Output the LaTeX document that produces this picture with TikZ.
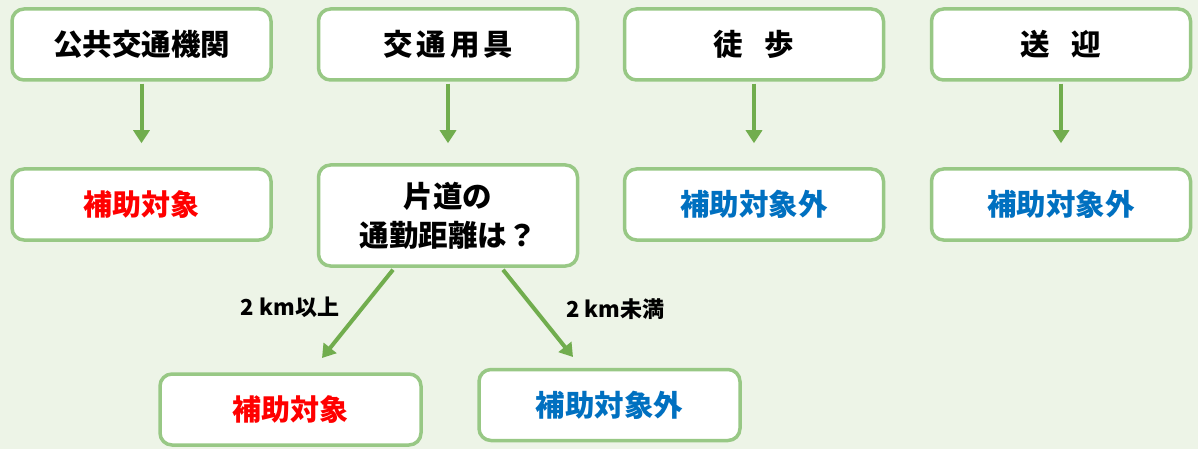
\documentclass[tikz,border=0pt]{standalone}
\usepackage{fontspec}
\setmainfont{Noto Sans CJK JP}
\usetikzlibrary{arrows.meta}
\definecolor{bgc}{HTML}{EDF4E7}
\definecolor{bdc}{HTML}{98C885}
\definecolor{arc}{HTML}{71AD4E}
\definecolor{redt}{HTML}{FF0000}
\definecolor{bluet}{HTML}{0070C0}
\tikzset{
  box/.style={draw=bdc, line width=3.5pt, fill=white, rounded corners=12pt,
    minimum width=259pt, minimum height=71pt, inner sep=0pt, align=center,
    font=\fontsize{29.5}{39}\selectfont\bfseries},
  redbox/.style={box, text=redt, font=\fontsize{29}{39}\selectfont\bfseries},
  bluebox/.style={box, text=bluet},
  conn/.style={draw=arc, line width=4pt, -{Triangle[length=13pt,width=16pt]}},
  lbl/.style={font=\fontsize{22}{26}\selectfont\bfseries, inner sep=0pt}
}
\begin{document}
\begin{tikzpicture}[x=1pt,y=-1pt]
\fill[bgc] (0,0) rectangle (1198,449);
\useasboundingbox (0,0) rectangle (1198,449);
\node[box] (a1) at (141.5,44.5) {公共交通機関};
\node[box] (a2) at (448,44.5) {交\hspace{4pt}通\hspace{4pt}用\hspace{4pt}具};
\node[box] (a3) at (754,44.5) {徒\hspace{22pt}歩};
\node[box] (a4) at (1061,44.5) {送\hspace{22pt}迎};
\node[redbox] (r1) at (141.5,204.5) {補助対象};
\node[box, minimum height=101pt] (q) at (448,215.5) {片道の\\通勤距離は？};
\node[bluebox] (r3) at (754,204.5) {補助対象外};
\node[bluebox] (r4) at (1061,204.5) {補助対象外};
\node[redbox, minimum width=261pt] (b1) at (290.5,409.5) {補助対象};
\node[bluebox, minimum width=261pt] (b2) at (609.5,405) {補助対象外};
\draw[conn, shorten <=2pt, shorten >=24pt] (a1) -- (r1);
\draw[conn, shorten <=2pt, shorten >=20pt] (a2) -- (q);
\draw[conn, shorten <=2pt, shorten >=24pt] (a3) -- (r3);
\draw[conn, shorten <=2pt, shorten >=24pt] (a4) -- (r4);
\coordinate (t1) at (322,358);
\coordinate (t2) at (573,357);
\draw[conn] ([xshift=-55pt,yshift=-2pt]q.south) -- (t1);
\draw[conn] ([xshift=55pt,yshift=-2pt]q.south) -- (t2);
\node[lbl] (l1) at (290,307.5) {2 km以上};
\node[lbl] (l2) at (615.5,309.5) {2 km未満};
\end{tikzpicture}
\end{document}
